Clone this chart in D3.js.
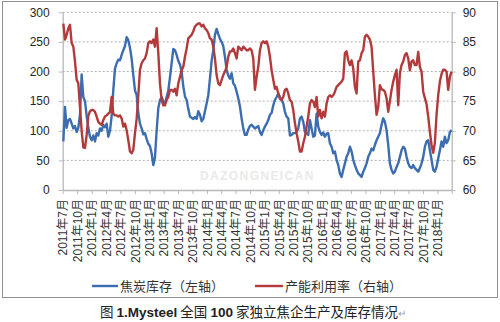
<!DOCTYPE html>
<html>
<head>
<meta charset="utf-8">
<script src="https://cdn.jsdelivr.net/npm/d3@7"></script>
<style>
  body { margin: 0; background: #fff; }
  svg { display: block; }
</style>
</head>
<body>
<svg id="chart" width="500" height="322"></svg>
<script>
// Quarterly axis labels
const quarterLabels = ["2011年7月","2011年10月","2012年1月","2012年4月","2012年7月","2012年10月",
  "2013年1月","2013年4月","2013年7月","2013年10月","2014年1月","2014年4月","2014年7月","2014年10月",
  "2015年1月","2015年4月","2015年7月","2015年10月","2016年1月","2016年4月","2016年7月","2016年10月",
  "2017年1月","2017年4月","2017年7月","2017年10月","2018年1月"];

const leftTicks = [0, 50, 100, 150, 200, 250, 300];
const rightTicks = [60, 65, 70, 75, 80, 85, 90];

// Observation window of the weekly survey
const obsStart = "2011-07-05";
const obsEnd = "2018-03-31";

// 焦炭库存 (万吨, left axis)
const cokeStock = [
  82,140,105,118,120,112,104,108,98,105,
  127,195,157,150,125,105,90,84,92,82,
  96,92,104,100,110,106,112,90,100,125,
  169,205,214,220,219,228,236,243,258,253,
  240,222,194,168,160,130,112,104,94,96,
  86,78,74,62,42,55,100,138,152,157,
  150,146,157,168,190,214,238,236,228,218,
  212,200,175,158,152,137,124,122,120,123,
  120,133,127,116,120,133,146,160,188,218,
  236,262,272,263,255,250,243,225,203,193,
  188,197,180,176,166,155,141,121,104,93,
  93,102,108,
  110,107,104,106,108,98,93,101,107,112,
  118,127,130,143,152,157,163,157,152,146,
  132,124,121,92,93,96,96,98,104,121,
  124,115,98,96,93,118,104,90,92,129,
  107,98,93,97,90,95,96,79,73,62,
  65,51,42,28,22,34,45,56,62,73,
  65,51,42,34,28,25,22,31,37,45,
  56,62,70,67,76,84,90,96,110,121,
  115,101,76,45,34,28,31,39,45,56,
  67,73,70,56,45,39,37,42,37,34,
  31,37,45,56,73,82,84,67,51,34,
  31,39,53,67,82,73,90,79,84,98,
  101
];

// 产能利用率 (%, right axis)
const utilization = [
  88.1,85.4,86.2,87.3,87.9,84.8,84.2,81.7,78.6,78,
  74,70,67.2,67.1,69.3,72.5,73.3,73.5,73.5,73.2,
  72.4,71.5,71.2,71,71.8,72.4,72.6,72.9,73.2,75.7,
  72.9,72.6,72.6,72.4,72.6,72.1,70.7,71.2,70.1,68.4,
  66.5,66.2,66.8,69.6,72.0,76.0,80.3,81.4,81.9,82.2,
  83.1,84.8,85.1,84.8,85.4,84.2,87.3,83.1,78,75.2,
  74.3,74.3,75.2,75.7,76.9,76.9,76.6,77.1,76,78,
  79.1,80.2,80.8,82.5,83.9,85.6,85.9,86.2,86.8,87.6,
  87.9,88.1,88.1,87.6,87.9,87.3,87,86.5,85.6,85.4,
  84.2,82.2,79.4,78,77.7,78.6,79.4,80,80.8,82.5,
  83.4,83.4,83.9,83.1,82.2,84.2,83.9,83.6,84.2,83.9,
  83.6,83.6,83.9,
  83.6,82.2,76.9,79.1,80.8,83.6,84.8,85.1,84.8,85.1,
  84.2,82.5,80.2,78.6,77.1,77.4,76.3,75.4,75.2,75.7,
  76.9,77.1,76.3,75.2,74.9,73.5,71.3,69.6,68.2,66.5,
  66.5,67.9,69,70.7,72.4,74.6,75.2,74.9,74,75.7,
  72.4,73.5,72.1,73.2,72.4,74.6,75.7,76,75.7,76,
  76.6,77.4,77.7,78,78.3,78.8,83.1,83.4,81.9,81.1,
  81.9,80.5,77.4,76.3,81.7,81.9,83.1,83.6,85.9,86.2,
  85.9,85.4,84.2,80,76,72.7,74,77.7,77,76.9,
  76.6,75.5,73.2,75,76.9,78.3,79.4,80.3,74.3,79.7,
  81.1,81.7,82.8,83.1,82.2,80.2,81.7,81.9,81.1,81.1,
  83.3,80.8,80,76.6,75.5,74.5,72.4,69.8,67.6,66.3,
  68,72.7,76,78.3,79.6,80.3,80.3,80,76.9,79.1,
  80
];

const seriesNames = ["焦炭库存（左轴）", "产能利用率（右轴）"];
const caption = ["图 ", "1.Mysteel", " 全国 ", "100", " 家独立焦企生产及库存情况"];

// ---- layout ----
const plot = { left: 62.7, right: 451.7, top: 12.3, bottom: 190 };
const BLUE = "#3c6db0", RED = "#b33a3b";
const AXIS = "#b8b8b8";
const FONT = "'Liberation Sans', Arial, 'Noto Sans CJK SC', sans-serif";
const CJK = "'Noto Sans CJK SC', 'Liberation Sans', sans-serif";

const svg = d3.select("#chart");

// outer frame
svg.append("rect")
  .attr("x", 2.5).attr("y", 1.5).attr("width", 495).attr("height", 296)
  .attr("fill", "#fff").attr("stroke", "#8f8f8f").attr("stroke-width", 1);

const parse = d3.timeParse("%Y-%m-%d");
const x = d3.scaleTime()
  .domain([new Date(2011, 6, 1), new Date(2018, 3, 1)])
  .range([plot.left, plot.right]);
const yL = d3.scaleLinear().domain([0, 300]).range([plot.bottom, plot.top]);
const yR = d3.scaleLinear().domain([60, 90]).range([plot.bottom, plot.top]);
const xi = d3.scaleLinear()
  .domain([0, cokeStock.length - 1])
  .range([x(parse(obsStart)), x(parse(obsEnd))]);

// watermark
svg.append("text")
  .attr("x", 200).attr("y", 180)
  .attr("fill", "#e8eae8")
  .attr("font-family", FONT).attr("font-weight", "bold")
  .attr("font-size", 12).attr("letter-spacing", 1.4)
  .text("DAZONGNEICAN");

// gridlines
svg.append("g").selectAll("line")
  .data(leftTicks.filter(d => d > 0))
  .join("line")
  .attr("x1", plot.left).attr("x2", plot.right)
  .attr("y1", d => yL(d)).attr("y2", d => yL(d))
  .attr("stroke", "#9c9c9c").attr("stroke-width", 0.8)
  .attr("stroke-dasharray", "2,2");

function styleAxis(g) {
  g.select(".domain").attr("stroke", AXIS).attr("stroke-width", 1.3);
  g.selectAll(".tick line").attr("stroke", AXIS);
  g.selectAll(".tick text")
    .attr("fill", "#262626")
    .attr("font-family", FONT)
    .attr("font-size", 12);
}

// left axis
svg.append("g")
  .attr("transform", `translate(${plot.left},0)`)
  .call(d3.axisLeft(yL).tickValues(leftTicks).tickSize(4).tickSizeOuter(0).tickPadding(9))
  .call(styleAxis);

// right axis
svg.append("g")
  .attr("transform", `translate(${plot.right},0)`)
  .call(d3.axisRight(yR).tickValues(rightTicks).tickSize(4).tickSizeOuter(0).tickPadding(7))
  .call(styleAxis);

// bottom axis with rotated quarter labels
const tickDates = d3.timeMonth.every(3).range(new Date(2011, 6, 1), new Date(2018, 3, 2));
const xAxis = svg.append("g")
  .attr("transform", `translate(0,${plot.bottom})`)
  .call(d3.axisBottom(x).tickValues(tickDates).tickSize(4).tickSizeOuter(0)
    .tickFormat((d, i) => quarterLabels[i] || ""))
  .call(styleAxis);
xAxis.selectAll(".tick text")
  .attr("font-family", FONT)
  .attr("fill", "#333")
  .attr("transform", "rotate(-90)")
  .attr("x", -9).attr("y", 0).attr("dy", "0.35em")
  .style("text-anchor", "end");

// series lines
const lineL = d3.line().x((d, i) => xi(i)).y(d => yL(d)).curve(d3.curveLinear);
const lineR = d3.line().x((d, i) => xi(i)).y(d => yR(d)).curve(d3.curveLinear);

svg.append("path").datum(cokeStock)
  .attr("d", lineL).attr("fill", "none")
  .attr("stroke", BLUE).attr("stroke-width", 2.4).attr("stroke-linejoin", "round");

svg.append("path").datum(utilization)
  .attr("d", lineR).attr("fill", "none")
  .attr("stroke", RED).attr("stroke-width", 2.4).attr("stroke-linejoin", "round");

// legend
const legendItems = [
  { name: seriesNames[0], color: BLUE, x1: 92, x2: 118 },
  { name: seriesNames[1], color: RED, x1: 255, x2: 283 }
];
const lg = svg.append("g");
legendItems.forEach(it => {
  lg.append("line")
    .attr("x1", it.x1).attr("x2", it.x2).attr("y1", 286).attr("y2", 286)
    .attr("stroke", it.color).attr("stroke-width", 2.4);
  lg.append("text")
    .attr("x", it.x2 + 2).attr("y", 290.5)
    .attr("font-family", CJK).attr("font-size", 13).attr("fill", "#333")
    .text(it.name);
});

// caption
const cap = svg.append("text")
  .attr("x", 253).attr("y", 317)
  .attr("text-anchor", "middle")
  .attr("font-family", CJK).attr("font-size", 13.5).attr("fill", "#222");
caption.forEach((t, i) => {
  cap.append("tspan")
    .attr("font-weight", (i === 1 || i === 3) ? "bold" : "normal")
    .attr("font-family", (i === 1 || i === 3) ? FONT : CJK)
    .text(t);
});
cap.append("tspan").attr("fill", "#999").attr("font-size", 10).text("↵");
</script>
</body>
</html>
